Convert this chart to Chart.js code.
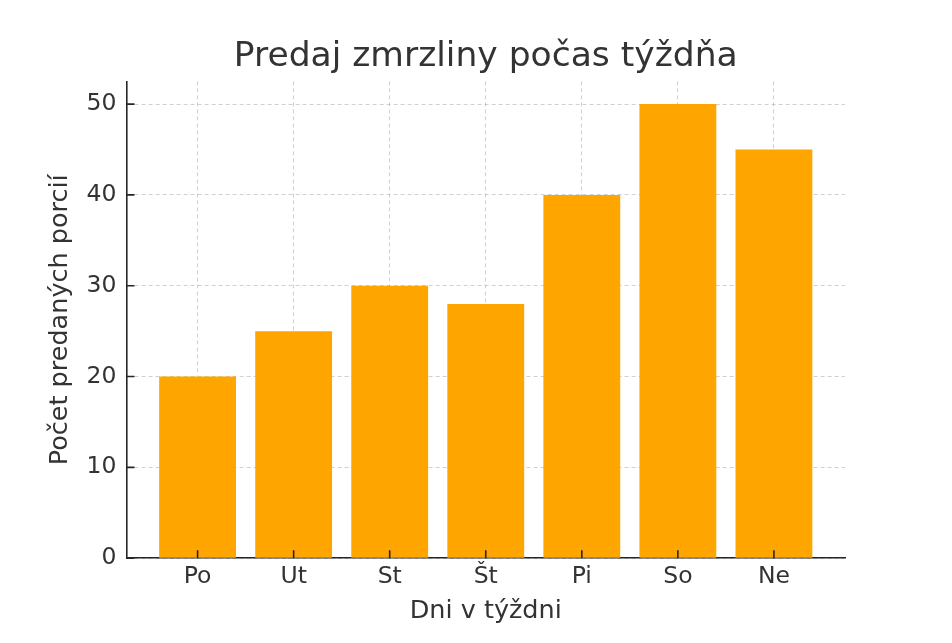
<!DOCTYPE html>
<html lang="sk">
<head>
<meta charset="UTF-8">
<title>Predaj zmrzliny počas týždňa</title>
<script src="https://cdn.jsdelivr.net/npm/chart.js"></script>
<style>
  html, body { margin: 0; padding: 0; background: #fff; }
  #wrap { width: 952px; height: 643px; }
</style>
</head>
<body>
<div id="wrap"><canvas id="chart"></canvas></div>
<script>
// data
const days = ['Po', 'Ut', 'St', 'Št', 'Pi', 'So', 'Ne'];
const portions = [20, 25, 30, 28, 40, 50, 45];
const yTicks = [0, 10, 20, 30, 40, 50];

const textColor = '#333333';
const axisColor = '#262626';
const font = 'DejaVu Sans';

// matplotlib-like tick marks pointing into the plot
const innerTicks = {
    id: 'innerTicks',
    afterDraw(chart) {
        const { ctx, chartArea, scales } = chart;
        const len = 8;
        ctx.save();
        ctx.strokeStyle = axisColor;
        ctx.lineWidth = 1.6;
        ctx.beginPath();
        scales.x.ticks.forEach(t => {
            const px = scales.x.getPixelForValue(t.value);
            ctx.moveTo(px, chartArea.bottom);
            ctx.lineTo(px, chartArea.bottom - len);
        });
        scales.y.ticks.forEach(t => {
            const py = scales.y.getPixelForValue(t.value);
            ctx.moveTo(chartArea.left, py);
            ctx.lineTo(chartArea.left + len, py);
        });
        ctx.stroke();
        ctx.restore();
    }
};

const gridOpts = {
    color: 'rgba(176,176,176,0.6)',
    lineWidth: 1,
    drawTicks: false
};

const chart = new Chart(document.getElementById('chart'), {
    type: 'bar',
    data: {
        datasets: [{
            data: portions.map((v, i) => ({ x: i, y: v })),
            backgroundColor: '#FFA500',
            borderWidth: 0,
            barPercentage: 0.8,
            categoryPercentage: 1.0
        }]
    },
    plugins: [innerTicks],
    options: {
        responsive: true,
        maintainAspectRatio: false,
        animation: false,
        layout: { padding: { left: 45, right: 107, top: 36, bottom: 16 } },
        plugins: {
            legend: { display: false },
            tooltip: { enabled: false },
            title: {
                display: true,
                fullSize: false,
                text: 'Predaj zmrzliny počas týždňa',
                color: textColor,
                font: { family: font, size: 34.5, weight: 'normal' },
                padding: { top: 0, bottom: 4 }
            }
        },
        scales: {
            x: {
                type: 'linear',
                min: -0.74,
                max: 6.74,
                offset: false,
                z: 1,
                afterBuildTicks: axis => { axis.ticks = days.map((d, i) => ({ value: i })); },
                ticks: {
                    callback: v => days[v],
                    color: textColor,
                    font: { family: font, size: 23.5 },
                    padding: 5,
                    maxRotation: 0,
                    autoSkip: false
                },
                grid: Object.assign({ offset: false }, gridOpts),
                border: { display: true, color: axisColor, width: 1.6, dash: [4, 3] },
                title: {
                    display: true,
                    text: 'Dni v týždni',
                    color: textColor,
                    font: { family: font, size: 25.5 },
                    padding: { top: 0, bottom: 0 }
                }
            },
            y: {
                min: 0,
                max: 52.5,
                z: 1,
                afterBuildTicks: axis => { axis.ticks = yTicks.map(v => ({ value: v })); },
                ticks: {
                    color: textColor,
                    font: { family: font, size: 23.5 },
                    padding: 10
                },
                grid: gridOpts,
                border: { display: true, color: axisColor, width: 1.6, dash: [4, 3] },
                title: {
                    display: true,
                    text: 'Počet predaných porcií',
                    color: textColor,
                    font: { family: font, size: 25.5 },
                    padding: { top: 0, bottom: 1 }
                }
            }
        }
    }
});
</script>
</body>
</html>
